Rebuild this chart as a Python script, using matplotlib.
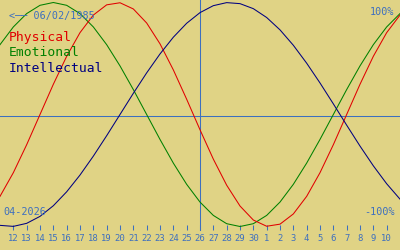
import matplotlib
matplotlib.use("Agg")
import matplotlib.pyplot as plt

# ---- data ----
day_index = list(range(-1, 30))          # 11 Apr .. 11 May 2026
tick_index = list(range(0, 29))
tick_labels = [str(d) for d in range(12, 31)] + [str(d) for d in range(1, 11)]
today_index = 14                          # 26 Apr

physical = [-0.7308, -0.5196, -0.2698, 0.0, 0.2698, 0.5196, 0.7308, 0.8879, 0.9791,
            0.9977, 0.9423, 0.8170, 0.6311, 0.3984, 0.1362, -0.1362, -0.3984, -0.6311,
            -0.8170, -0.9423, -0.9977, -0.9791, -0.8879, -0.7308, -0.5196, -0.2698,
            0.0, 0.2698, 0.5196, 0.7308, 0.8879]
emotional = [0.6235, 0.7818, 0.9010, 0.9749, 1.0, 0.9749, 0.9010, 0.7818, 0.6235,
             0.4339, 0.2225, 0.0, -0.2225, -0.4339, -0.6235, -0.7818, -0.9010, -0.9749,
             -1.0, -0.9749, -0.9010, -0.7818, -0.6235, -0.4339, -0.2225, 0.0, 0.2225,
             0.4339, 0.6235, 0.7818, 0.9010]
intellectual = [-0.9898, -0.9989, -0.9718, -0.9096, -0.8146, -0.6901, -0.5406, -0.3717,
                -0.1893, 0.0, 0.1893, 0.3717, 0.5406, 0.6901, 0.8146, 0.9096, 0.9718,
                0.9989, 0.9898, 0.9450, 0.8660, 0.7557, 0.6182, 0.4582, 0.2817, 0.0951,
                -0.0951, -0.2817, -0.4582, -0.6182, -0.7557]
series_names = ["Physical", "Emotional", "Intellectual"]
birth_text = "<── 06/02/1985"
month_text = "04-2026"
top_text = "100%"
bottom_text = "-100%"

# ---- style ----
BG = "#e0d385"
BLUE = "#3d6fbf"
RED = "#e00000"
GREEN = "#008000"
NAVY = "#000080"
MONO = "DejaVu Sans Mono"
LW = 0.75

W, H = 400, 250
fig = plt.figure(figsize=(W / 100, H / 100), dpi=100, facecolor=BG)
ax = fig.add_axes([0, 0, 1, 1], facecolor=BG)

# pixel mapping: v -> y_px = 114.5 - 112 v
def v_of(ypx):
    return (114.5 - ypx) / 112.0

ax.set_xlim(-1, 29)
ax.set_ylim(v_of(H), v_of(0))

ax.axhline(v_of(115.5), color=BLUE, lw=LW, zorder=1)
ax.axvline(today_index, ymin=(H - 230) / H, ymax=1, color=BLUE, lw=LW, zorder=1)

ax.plot(day_index, emotional, color=GREEN, lw=LW, zorder=3)
ax.plot(day_index, physical, color=RED, lw=LW, zorder=3)
ax.plot(day_index, intellectual, color=NAVY, lw=LW, zorder=3)

# axis ticks
for s in ax.spines.values():
    s.set_visible(False)
ax.spines["bottom"].set_position(("data", v_of(230)))
ax.set_xticks(tick_index)
ax.set_xticklabels(tick_labels, fontfamily=MONO, fontsize=6.4, color=BLUE)
ax.tick_params(axis="x", direction="in", length=3.6, width=LW, color=BLUE, pad=3.0)
ax.set_yticks([])

def px_text(x, y, s, color, size, ha="left"):
    fig.text(x / W, 1 - y / H, s, color=color, fontsize=size, fontfamily=MONO,
             ha=ha, va="center")

px_text(9, 16, birth_text, BLUE, 7.3)
px_text(9, 38, series_names[0], RED, 9.4)
px_text(9, 53, series_names[1], GREEN, 9.4)
px_text(9, 68, series_names[2], NAVY, 9.4)
px_text(394, 12, top_text, BLUE, 7.3, ha="right")
px_text(395, 212, bottom_text, BLUE, 7.3, ha="right")
px_text(3, 212, month_text, BLUE, 7.3)

fig.savefig("out.png", dpi=100, facecolor=BG)
